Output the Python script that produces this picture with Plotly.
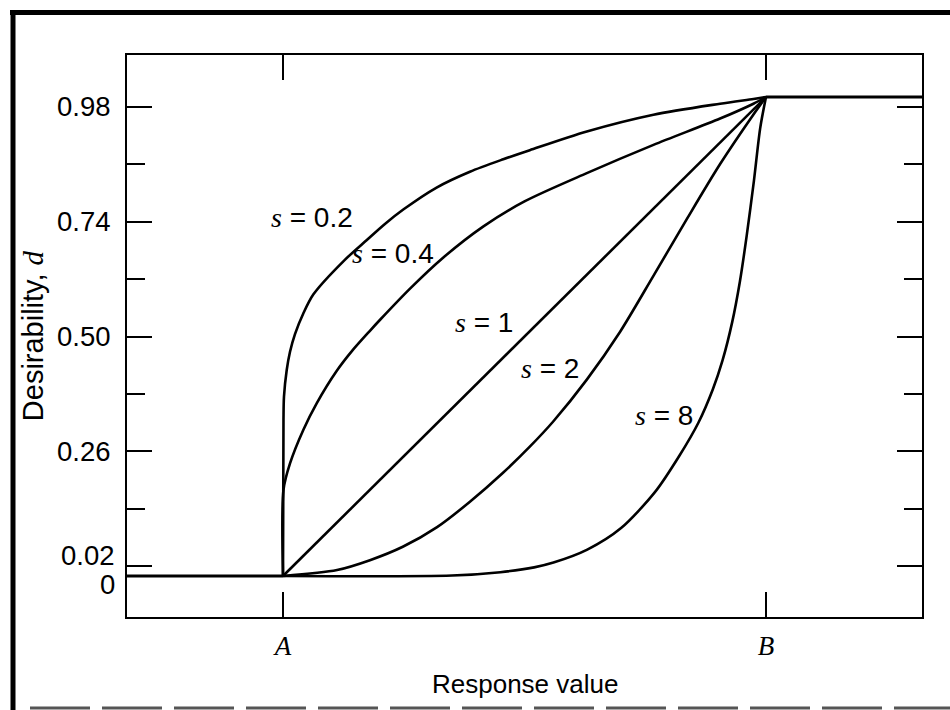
import plotly.graph_objects as go

# ---------------- data ----------------
# x: response value, scaled so that A = 0 and B = 1 ; y: desirability d
s_names = ["0.2", "0.4", "1", "2", "8"]

s02_x = [0.0, 0.001, 0.002, 0.0077, 0.0145, 0.0248, 0.042, 0.063, 0.128, 0.173,
         0.211, 0.249, 0.318, 0.387, 0.456, 0.511, 0.629, 0.767, 0.905, 0.974, 1.0]
s02_y = [0.0, 0.326, 0.374, 0.430, 0.468, 0.505, 0.548, 0.588, 0.660, 0.701,
         0.735, 0.765, 0.811, 0.844, 0.870, 0.889, 0.928, 0.963, 0.986, 0.996, 1.0]

s04_x = [0.0, 0.001, 0.0145, 0.042, 0.070, 0.111, 0.143, 0.180, 0.201, 0.263,
         0.332, 0.415, 0.500, 0.629, 0.767, 0.905, 0.974, 1.0]
s04_y = [0.0, 0.180, 0.235, 0.305, 0.361, 0.428, 0.470, 0.512, 0.535, 0.600,
         0.665, 0.730, 0.782, 0.841, 0.900, 0.955, 0.986, 1.0]

s1_x = [0.0, 1.0]
s1_y = [0.0, 1.0]

s2_x = [0.0, 0.112, 0.180, 0.248, 0.319, 0.387, 0.455, 0.511, 0.559, 0.629,
        0.698, 0.766, 0.836, 0.905, 0.973, 1.0]
s2_y = [0.0, 0.0125, 0.033, 0.061, 0.102, 0.155, 0.215, 0.270, 0.322, 0.410,
        0.510, 0.625, 0.745, 0.860, 0.962, 1.0]

s8_x = [0.0, 0.350, 0.450, 0.520, 0.560, 0.630, 0.700, 0.770, 0.820, 0.860,
        0.890, 0.910, 0.930, 0.946, 0.960, 0.975, 0.988, 1.0]
s8_y = [0.0, 0.001, 0.008, 0.018, 0.028, 0.055, 0.100, 0.175, 0.250, 0.320,
        0.390, 0.450, 0.530, 0.615, 0.710, 0.825, 0.935, 1.0]

x_tick_vals = [0, 1]
x_tick_text = ["A", "B"]
y_major_vals = [0.98, 0.74, 0.50, 0.26, 0.02]
y_major_text = ["0.98", "0.74", "0.50", "0.26", ""]
y_minor_vals = [0.86, 0.62, 0.38, 0.14]

x_title = "Response value"
y_title = "Desirability, "

# ---------------- layout settings ----------------
X_RANGE = [-0.323, 1.323]
Y_RANGE = [-0.0856, 1.0877]
SANS = "Liberation Sans, Arial, sans-serif"
SERIF = "Liberation Serif, Times New Roman, serif"
FS_TICK = 27.5
FS_LABEL = 28
FS_TITLE = 26

fig = go.Figure()

line = dict(color="black", width=2.6)
curves = [(s02_x, s02_y), (s04_x, s04_y), (s1_x, s1_y), (s2_x, s2_y), (s8_x, s8_y)]
for name, (cx, cy) in zip(s_names, curves):
    fig.add_trace(go.Scatter(x=cx, y=cy, mode="lines",
                             line=dict(shape="spline", smoothing=0.8, **line),
                             name="s = " + name, showlegend=False, hoverinfo="skip"))

# flat parts: d = 0 below A, d = 1 above B
fig.add_trace(go.Scatter(x=[X_RANGE[0], 0], y=[0, 0], mode="lines", line=dict(color="black", width=3),
                         showlegend=False, hoverinfo="skip"))
fig.add_trace(go.Scatter(x=[1, X_RANGE[1]], y=[1, 1], mode="lines", line=dict(color="black", width=3),
                         showlegend=False, hoverinfo="skip"))

# curve labels
label_pos = [(0.060, 0.749), (0.228, 0.674), (0.416, 0.530), (0.553, 0.434), (0.789, 0.336)]
annotations = []
for name, (lx, ly) in zip(s_names, label_pos):
    annotations.append(dict(
        x=lx, y=ly, xref="x", yref="y", showarrow=False,
        text=f'<span style="font-family:{SERIF}"><i>s</i></span> = {name}',
        font=dict(family=SANS, size=FS_LABEL, color="black"), xanchor="center", yanchor="middle"))

# 0.02 and 0 labels (pushed apart as in the original)
annotations.append(dict(x=0, y=0.02, xref="paper", yref="y", text="0.02", showarrow=False,
                        xanchor="right", yanchor="middle", xshift=-10, yshift=11,
                        font=dict(family=SANS, size=FS_TICK, color="black")))
annotations.append(dict(x=0, y=0, xref="paper", yref="y", text="0", showarrow=False,
                        xanchor="right", yanchor="middle", xshift=-10, yshift=-8,
                        font=dict(family=SANS, size=FS_TICK, color="black")))
# axis titles
annotations.append(dict(x=0.5, y=-0.1192, xref="paper", yref="paper", text=x_title, showarrow=False,
                        xanchor="center", yanchor="middle", font=dict(family=SANS, size=FS_TITLE, color="black")))
annotations.append(dict(x=-0.118, y=0.5, xref="paper", yref="paper", showarrow=False, textangle=-90,
                        text=y_title + f'<span style="font-family:{SERIF}"><i>d</i></span>',
                        xanchor="center", yanchor="middle", font=dict(family=SANS, size=29, color="black")))

fig.update_layout(
    width=950, height=710,
    margin=dict(l=127, r=28, t=55, b=93),
    paper_bgcolor="white", plot_bgcolor="white",
    annotations=annotations,
    xaxis=dict(range=X_RANGE, showgrid=False, zeroline=False, showline=True, linecolor="black",
               linewidth=2, mirror="ticks", ticks="inside", ticklen=25, tickwidth=2, tickcolor="black",
               tickvals=x_tick_vals, ticktext=[f"<i>{t}</i>" for t in x_tick_text], ticklabelstandoff=4,
               tickfont=dict(family=SERIF, size=27, color="black"), fixedrange=True),
    yaxis=dict(range=Y_RANGE, showgrid=False, zeroline=False, showline=True, linecolor="black",
               linewidth=2, mirror="ticks", ticks="inside", ticklen=25, tickwidth=2, tickcolor="black",
               tickvals=y_major_vals, ticktext=y_major_text, ticklabelstandoff=9,
               tickfont=dict(family=SANS, size=FS_TICK, color="black"),
               minor=dict(tickvals=y_minor_vals, ticks="inside", ticklen=18, tickwidth=2,
                          tickcolor="black", showgrid=False),
               fixedrange=True),
    shapes=[
        dict(type="line", xref="paper", yref="paper", x0=(10 - 127) / 795, x1=(950 - 127) / 795,
             y0=(617 - 12.5) / 562, y1=(617 - 12.5) / 562, line=dict(color="black", width=5)),
        dict(type="line", xref="paper", yref="paper", x0=(13 - 127) / 795, x1=(13 - 127) / 795,
             y0=(617 - 10) / 562, y1=(617 - 712) / 562, line=dict(color="black", width=5)),
        dict(type="line", xref="paper", yref="paper", x0=(30 - 127) / 795, x1=(950 - 127) / 795,
             y0=(617 - 708) / 562, y1=(617 - 708) / 562,
             line=dict(color="#555555", width=3, dash="60px,12px")),
    ],
)

fig.write_html("out.html", config={"displayModeBar": False})
